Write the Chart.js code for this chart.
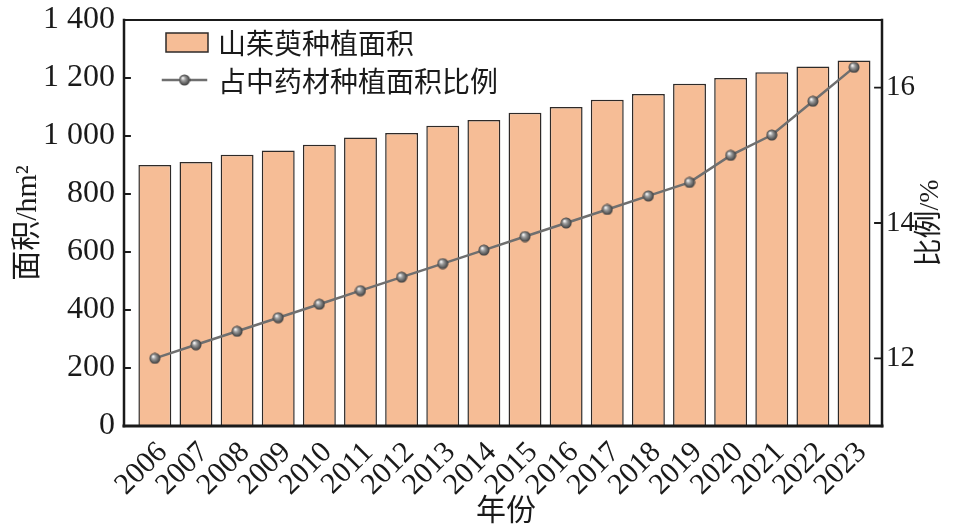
<!DOCTYPE html>
<html>
<head>
<meta charset="utf-8">
<script src="https://cdn.jsdelivr.net/npm/chart.js@4/dist/chart.umd.min.js"></script>
<style>
	html, body { margin: 0; padding: 0; background: #fff; }
	#wrap { width: 957px; height: 531px; position: relative; }
</style>
</head>
<body>
<div id="wrap"><canvas id="areaChart"></canvas></div>
<script>
const years = [2006, 2007, 2008, 2009, 2010, 2011, 2012, 2013, 2014, 2015, 2016, 2017, 2018, 2019, 2020, 2021, 2022, 2023]
const plantArea = [900, 910, 935, 950, 970, 995, 1010, 1035, 1055, 1080, 1100, 1125, 1145, 1180, 1200, 1220, 1240, 1260]
const shareOfHerbs = [12.0, 12.2, 12.4, 12.6, 12.8, 13.0, 13.2, 13.4, 13.6, 13.8, 14.0, 14.2, 14.4, 14.6, 15.0, 15.3, 15.8, 16.3]
const leftTicks = [0, 200, 400, 600, 800, 1000, 1200, 1400]
const rightTicks = [12, 14, 16]

const SERIF = "'Liberation Serif', 'Times New Roman', 'Noto Sans CJK SC', serif"
const CJK = "'Noto Sans CJK SC', 'Liberation Serif', sans-serif"
const barFill = '#F6BD96'
const barEdge = '#2e2a28'
const lineGrey = '#6f6f6f'

// little shaded ball used for line points and legend
const ball = (() => {
	const r = 5.5
	const c = document.createElement('canvas')
	c.width = c.height = Math.ceil(r * 2) + 1
	const g = c.getContext('2d')
	const cx = c.width / 2
	const grad = g.createRadialGradient(cx - 1.8, cx - 2, 0.5, cx, cx, r)
	grad.addColorStop(0, '#f2f2f2')
	grad.addColorStop(0.35, '#9a9a9a')
	grad.addColorStop(1, '#3a3a3a')
	g.fillStyle = grad
	g.beginPath()
	g.arc(cx, cx, r, 0, Math.PI * 2)
	g.fill()
	return c
})()

const spaced = v => String(v).replace(/\B(?=(\d{3})+(?!\d))/g, ' ')

// vertical axes should not push the plot down, the top label may stick out
const noVPad = scale => {
	scale.paddingTop = 0
	scale.paddingBottom = 0
}

// frame, inward tick marks, axis titles and legend inside the plot
const decor = {
	id: 'decor',
	afterDraw(chart) {
		const { ctx, chartArea: a, scales } = chart
		ctx.save()
		ctx.strokeStyle = '#1a1a1a'
		ctx.lineCap = 'square'
		ctx.lineWidth = 2
		ctx.beginPath()
		ctx.moveTo(a.left, a.top)
		ctx.lineTo(a.right, a.top)
		ctx.stroke()
		ctx.lineWidth = 2.5
		ctx.beginPath()
		ctx.moveTo(a.left, a.top)
		ctx.lineTo(a.left, a.bottom)
		ctx.moveTo(a.right, a.top)
		ctx.lineTo(a.right, a.bottom)
		ctx.stroke()
		ctx.lineWidth = 3
		ctx.beginPath()
		ctx.moveTo(a.left, a.bottom)
		ctx.lineTo(a.right, a.bottom)
		ctx.stroke()

		ctx.lineWidth = 1.8
		ctx.beginPath()
		scales.y.ticks.forEach(t => {
			const py = scales.y.getPixelForValue(t.value)
			ctx.moveTo(a.left, py)
			ctx.lineTo(a.left + 6, py)
		})
		scales.y1.ticks.forEach(t => {
			const py = scales.y1.getPixelForValue(t.value)
			ctx.moveTo(a.right, py)
			ctx.lineTo(a.right - 7, py)
		})
		ctx.stroke()

		// axis titles
		ctx.fillStyle = '#1a1a1a'
		ctx.textAlign = 'center'
		ctx.textBaseline = 'middle'
		ctx.font = '30px ' + SERIF
		const midY = (a.top + a.bottom) / 2
		ctx.save()
		ctx.translate(28, midY)
		ctx.rotate(-Math.PI / 2)
		ctx.fillText('面积/hm²', 0, 0)
		ctx.restore()
		ctx.font = '28px ' + SERIF
		ctx.save()
		ctx.translate(931, midY)
		ctx.rotate(-Math.PI / 2)
		ctx.fillText('比例/%', 0, 0)
		ctx.restore()
		ctx.font = '30px ' + SERIF
		ctx.fillText('年份', 506, 512)

		// legend
		const ds = chart.data.datasets
		ctx.fillStyle = barFill
		ctx.strokeStyle = barEdge
		ctx.lineWidth = 1.5
		ctx.fillRect(166, 33, 42, 19)
		ctx.strokeRect(166, 33, 42, 19)
		ctx.strokeStyle = lineGrey
		ctx.lineWidth = 2.5
		ctx.beginPath()
		ctx.moveTo(163, 80)
		ctx.lineTo(206, 80)
		ctx.stroke()
		ctx.drawImage(ball, 184.5 - ball.width / 2, 80 - ball.height / 2)
		ctx.fillStyle = '#1a1a1a'
		ctx.textAlign = 'left'
		ctx.font = '28px ' + CJK
		ctx.fillText(ds[0].label, 218, 43)
		ctx.fillText(ds[1].label, 218, 81)
		ctx.restore()
	},
}

const ctx = document.getElementById('areaChart').getContext('2d')
const areaChart = new Chart(ctx, {
	data: {
		datasets: [
			{
				type: 'bar',
				label: '山茱萸种植面积',
				data: years.map((yr, i) => ({ x: yr, y: plantArea[i] })),
				backgroundColor: barFill,
				borderColor: barEdge,
				borderWidth: 1.5,
				categoryPercentage: 1,
				barPercentage: 0.8,
				yAxisID: 'y',
				order: 2,
			},
			{
				type: 'line',
				label: '占中药材种植面积比例',
				data: years.map((yr, i) => ({ x: yr, y: shareOfHerbs[i] })),
				borderColor: lineGrey,
				borderWidth: 2.5,
				pointStyle: ball,
				pointRadius: 5.5,
				tension: 0,
				yAxisID: 'y1',
				order: 1,
			},
		],
	},
	options: {
		responsive: true,
		maintainAspectRatio: false,
		animation: false,
		layout: { padding: { top: 20, left: 0, right: 0, bottom: 0 } },
		plugins: {
			legend: { display: false },
			tooltip: { enabled: false },
		},
		scales: {
			x: {
				type: 'linear',
				min: 2005.25,
				max: 2023.68,
				offset: false,
				grid: { display: false, drawTicks: false },
				border: { display: false },
				afterBuildTicks: scale => { scale.ticks = years.map(v => ({ value: v })) },
				afterFit: scale => { scale.height = 105 },
				ticks: {
					autoSkip: false,
					minRotation: 45,
					maxRotation: 45,
					padding: 9,
					labelOffset: 8,
					color: '#1a1a1a',
					font: { family: SERIF, size: 30 },
					callback: v => String(v),
				},
			},
			y: {
				position: 'left',
				min: 0,
				max: 1400,
				grid: { display: false, drawTicks: false },
				border: { display: false },
				afterBuildTicks: scale => { scale.ticks = leftTicks.map(v => ({ value: v })) },
				afterFit: scale => {
					scale.width = 124
					noVPad(scale)
				},
				ticks: {
					padding: 9,
					color: '#1a1a1a',
					font: { family: SERIF, size: 32 },
					callback: v => spaced(v),
				},
			},
			y1: {
				position: 'right',
				min: 11,
				max: 17,
				grid: { display: false, drawTicks: false },
				border: { display: false },
				afterBuildTicks: scale => { scale.ticks = rightTicks.map(v => ({ value: v })) },
				afterFit: scale => {
					scale.width = 75
					noVPad(scale)
				},
				ticks: {
					padding: 4,
					color: '#1a1a1a',
					font: { family: SERIF, size: 29 },
					callback: v => String(v),
				},
			},
		},
	},
	plugins: [decor],
})
</script>
</body>
</html>
